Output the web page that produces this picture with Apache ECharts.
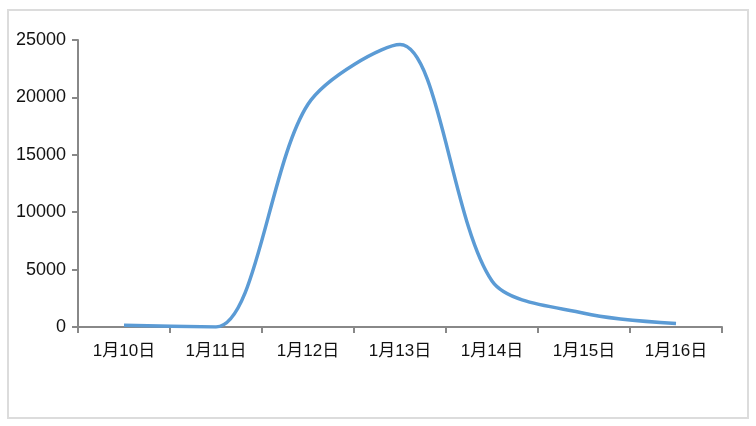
<!DOCTYPE html>
<html>
<head>
<meta charset="utf-8">
<script src="https://cdn.jsdelivr.net/npm/echarts@6/dist/echarts.min.js"></script>
<style>
html,body{margin:0;padding:0;background:#fff;}
#chart{width:756px;height:426px;}
</style>
</head>
<body>
<div id="chart"></div>
<script>
var categories = ['1月10日', '1月11日', '1月12日', '1月13日', '1月14日', '1月15日', '1月16日'];
var values = [150, 10, 19400, 24600, 4000, 1200, 300];
var yTicks = { min: 0, max: 25000, interval: 5000 };

var chart = echarts.init(document.getElementById('chart'), null, { renderer: 'canvas' });
var font = '"Liberation Sans", "Noto Sans CJK SC", sans-serif';
chart.setOption({
  animation: false,
  backgroundColor: '#ffffff',
  graphic: [{
    type: 'rect',
    silent: true,
    shape: { x: 8, y: 10, width: 740, height: 408 },
    style: { fill: 'none', stroke: '#dcdcdc', lineWidth: 2 }
  }],
  grid: { left: 78, right: 34, top: 40, bottom: 99, containLabel: false },
  xAxis: {
    type: 'category',
    data: categories,
    boundaryGap: true,
    axisLine: { lineStyle: { color: '#888888', width: 2 } },
    axisTick: { show: true, length: 6, alignWithLabel: false, lineStyle: { color: '#888888', width: 2 } },
    axisLabel: { color: '#111111', fontSize: 17, margin: 16, fontFamily: font },
    splitLine: { show: false }
  },
  yAxis: {
    type: 'value',
    min: yTicks.min,
    max: yTicks.max,
    interval: yTicks.interval,
    axisLine: { show: true, lineStyle: { color: '#888888', width: 2 } },
    axisTick: { show: true, length: 6, lineStyle: { color: '#888888', width: 2 } },
    axisLabel: { color: '#111111', fontSize: 18, margin: 12, fontFamily: font,
      formatter: function (v) { return String(v); } },
    splitLine: { show: false }
  },
  series: [{
    type: 'line',
    data: values,
    smooth: 0.3,
    symbol: 'none',
    lineStyle: { color: '#5b9bd5', width: 3.5 },
    itemStyle: { color: '#5b9bd5' }
  }]
});
</script>
</body>
</html>
